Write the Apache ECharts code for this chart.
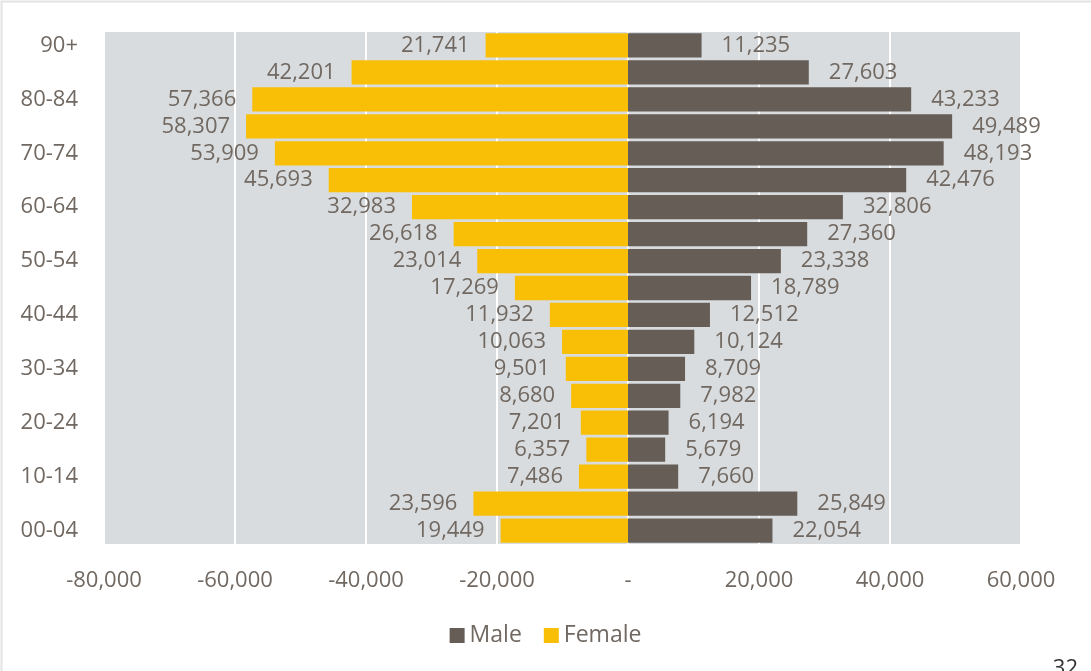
<!DOCTYPE html>
<html>
<head>
<meta charset="utf-8">
<script src="https://cdn.jsdelivr.net/npm/echarts@6/dist/echarts.min.js"></script>
<style>
html,body{margin:0;padding:0;background:#fff;}
#main{width:1091px;height:671px;}
</style>
</head>
<body>
<div id="main"></div>
<script>
const categories = ['00-04','05-09','10-14','15-19','20-24','25-29','30-34','35-39','40-44','45-49','50-54','55-59','60-64','65-69','70-74','75-79','80-84','85-89','90+'];
const male = [22054,25849,7660,5679,6194,7982,8709,10124,12512,18789,23338,27360,32806,42476,48193,49489,43233,27603,11235];
const female = [19449,23596,7486,6357,7201,8680,9501,10063,11932,17269,23014,26618,32983,45693,53909,58307,57366,42201,21741];
const xTicks = [-80000,-60000,-40000,-20000,0,20000,40000,60000];

const fmt = v => Math.abs(v).toLocaleString('en-US');
const textColor = '#706861';
const font = '"Open Sans", "Noto Sans", sans-serif';

const chart = echarts.init(document.getElementById('main'), null, {renderer:'canvas'});
chart.setOption({
  animation: false,
  textStyle: {fontFamily: font},
  title: {
    text: '32', right: 8, bottom: -14,
    textStyle: {fontSize: 22, fontWeight: 'normal', color: '#333', fontFamily: font}
  },
  graphic: [{
    type: 'polyline', silent: true,
    shape: {points: [[1.5, 671], [1.5, 1.5], [1091, 1.5]]},
    style: {stroke: '#e3e3e3', lineWidth: 2, fill: null}
  }],
  grid: {
    left: 104, right: 70, top: 32, bottom: 127,
    show: true, backgroundColor: '#d9dcde', borderWidth: 0
  },
  legend: {
    bottom: 19, left: 'center',
    itemWidth: 15, itemHeight: 15, itemGap: 22,
    icon: 'rect',
    textStyle: {fontSize: 23, color: textColor, fontFamily: font},
    data: ['Male', 'Female']
  },
  xAxis: {
    type: 'value', min: xTicks[0], max: xTicks[xTicks.length-1], interval: 20000,
    axisLine: {show: false}, axisTick: {show: false},
    splitLine: {show: true, lineStyle: {color: '#ffffff', width: 2}},
    axisLabel: {
      fontSize: 22, color: textColor, fontFamily: font, margin: 26,
      formatter: v => v === 0 ? '-' : v.toLocaleString('en-US')
    }
  },
  yAxis: {
    type: 'category', data: categories,
    axisLine: {show: false}, axisTick: {show: false},
    axisLabel: {interval: 1, fontSize: 22, color: textColor, fontFamily: font, margin: 26}
  },
  series: [
    {
      name: 'Male', type: 'bar', data: male,
      barCategoryGap: '10%', barGap: '-100%',
      itemStyle: {color: '#655d56'},
      label: {show: true, position: 'right', distance: 20, fontSize: 22, color: textColor, fontFamily: font, formatter: p => fmt(p.value)}
    },
    {
      name: 'Female', type: 'bar', data: female.map(v => -v),
      barCategoryGap: '10%', barGap: '-100%',
      itemStyle: {color: '#f8bf06'},
      label: {show: true, position: 'left', distance: 16, fontSize: 22, color: textColor, fontFamily: font, formatter: p => fmt(p.value)}
    }
  ]
});
</script>
</body>
</html>
